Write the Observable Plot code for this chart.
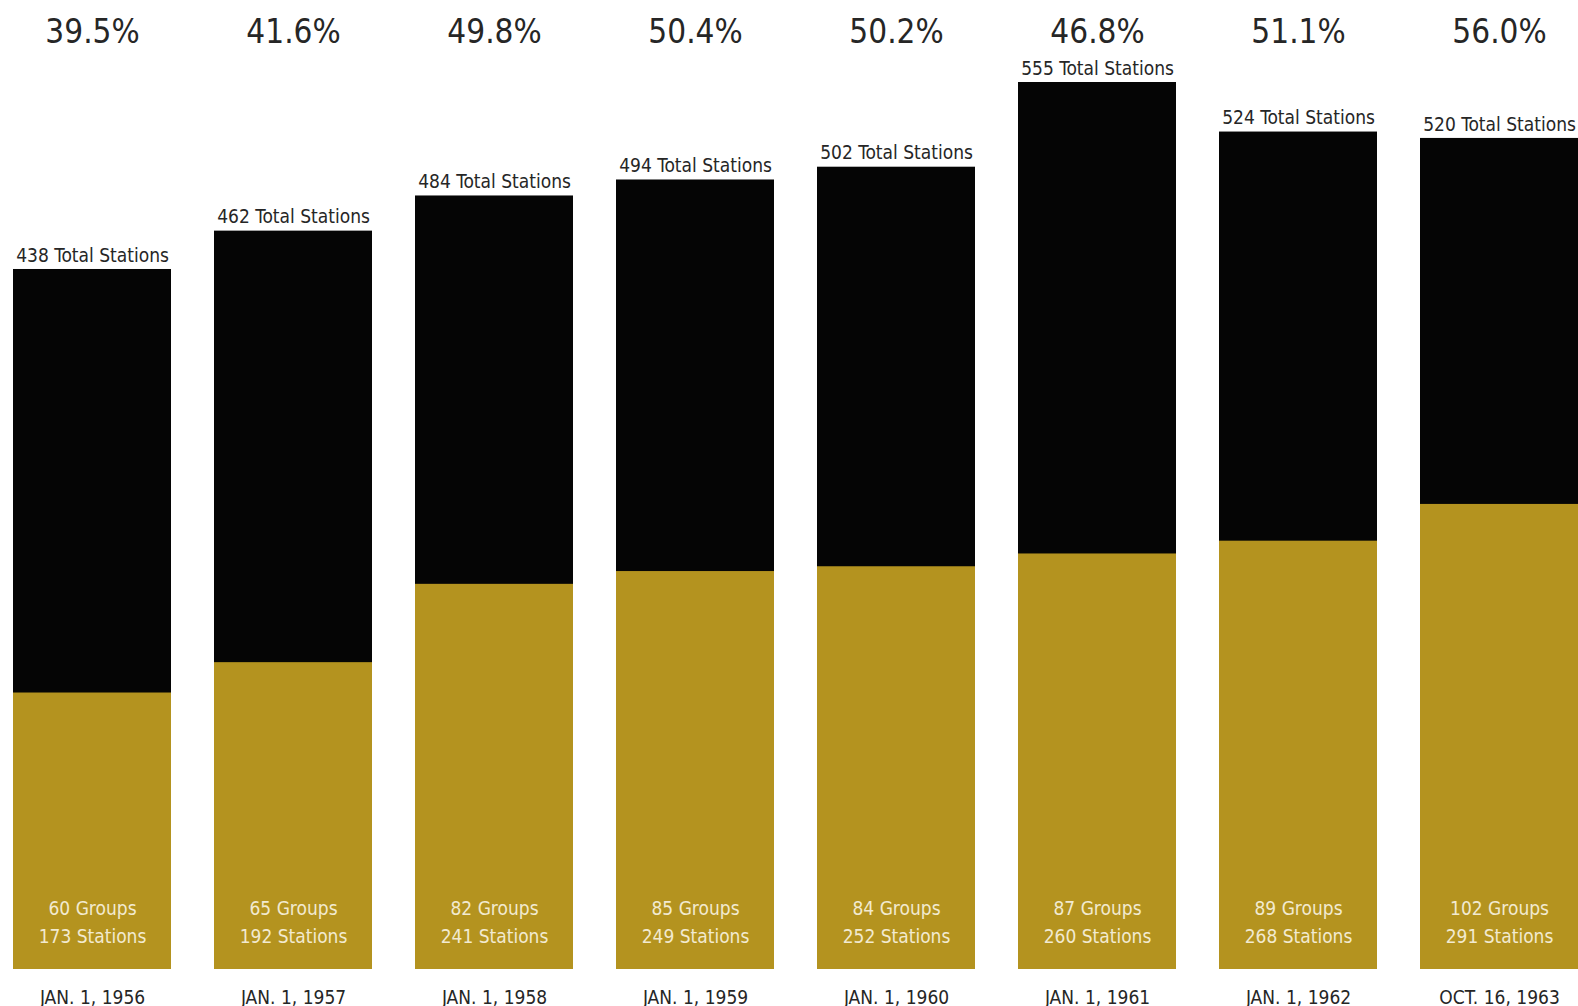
<!DOCTYPE html>
<html>
<head>
<meta charset="utf-8">
<script src="https://cdn.jsdelivr.net/npm/d3@7"></script>
<script src="https://cdn.jsdelivr.net/npm/@observablehq/plot@0.6"></script>
<style>
  html, body { margin: 0; padding: 0; background: #fff; }
  #chart svg { display: block; overflow: visible; }
  #chart text { font-stretch: condensed; }
</style>
</head>
<body>
<div id="chart"></div>
<script>
const dates = ["JAN. 1, 1956","JAN. 1, 1957","JAN. 1, 1958","JAN. 1, 1959","JAN. 1, 1960","JAN. 1, 1961","JAN. 1, 1962","OCT. 16, 1963"];
const totalStations = [438, 462, 484, 494, 502, 555, 524, 520];
const groups = [60, 65, 82, 85, 84, 87, 89, 102];
const groupStations = [173, 192, 241, 249, 252, 260, 268, 291];
const percents = ["39.5%", "41.6%", "49.8%", "50.4%", "50.2%", "46.8%", "51.1%", "56.0%"];

const rows = dates.map((d, i) => ({
  date: d,
  total: totalStations[i],
  groups: groups[i],
  gs: groupStations[i],
  pct: percents[i]
}));

const font = "'DejaVu Sans Condensed', 'Liberation Sans Narrow', sans-serif";
const dark = "#262626";

const chart = Plot.plot({
  width: 1578,
  height: 1006,
  marginLeft: 12,
  marginRight: 0,
  marginTop: 82,
  marginBottom: 37,
  style: { fontFamily: font, background: "#fff", overflow: "visible" },
  x: { domain: dates, paddingInner: 0.214, paddingOuter: 0, axis: null },
  y: { domain: [0, 555], axis: null },
  marks: [
    Plot.barY(rows, { x: "date", y: "total", fill: "#050505" }),
    Plot.barY(rows, { x: "date", y: "gs", fill: "#b4931f" }),
    Plot.text(rows, { x: "date", frameAnchor: "top", lineAnchor: "middle", dy: -50, text: "pct", fontSize: 33, fill: dark }),
    Plot.text(rows, { x: "date", y: "total", dy: -14, text: d => `${d.total} Total Stations`, fontSize: 19, fill: dark }),
    Plot.text(rows, { x: "date", y: 0, dy: -61, text: d => `${d.groups} Groups`, fontSize: 19, fill: "#f2ead0" }),
    Plot.text(rows, { x: "date", y: 0, dy: -33, text: d => `${d.gs} Stations`, fontSize: 19, fill: "#f2ead0" }),
    Plot.text(rows, { x: "date", y: 0, dy: 28, text: "date", fontSize: 19, fill: dark })
  ]
});
document.getElementById("chart").appendChild(chart);
</script>
</body>
</html>
